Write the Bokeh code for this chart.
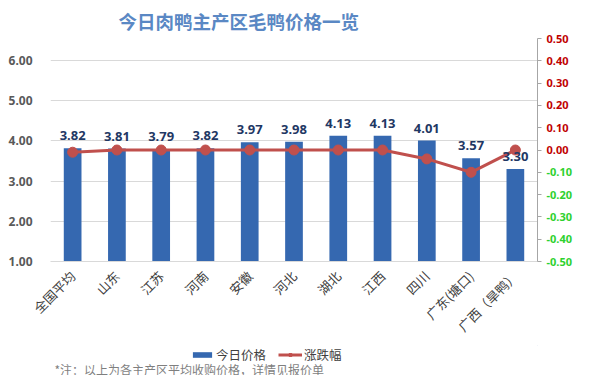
from bokeh.plotting import figure
from bokeh.layouts import column
from bokeh.models import (ColumnDataSource, LinearAxis, Range1d, FactorRange, FixedTicker,
                          Legend, LegendItem, LabelSet, Label, CustomJSTickFormatter)
from bokeh.embed import file_html
from bokeh.resources import INLINE
from bokeh.core.properties import value

regions = ["全国平均", "山东", "江苏", "河南", "安徽", "河北", "湖北", "江西", "四川", "广东(塘口)", "广西（旱鸭）"]
prices = [3.82, 3.81, 3.79, 3.82, 3.97, 3.98, 4.13, 4.13, 4.01, 3.57, 3.30]
changes = [-0.01, 0.00, 0.00, 0.00, 0.00, 0.00, 0.00, 0.00, -0.04, -0.10, 0.00]
left_ticks = [1, 2, 3, 4, 5, 6]
right_ticks = [-0.5, -0.4, -0.3, -0.2, -0.1, 0.0, 0.1, 0.2, 0.3, 0.4, 0.5]
pos_ticks = [t for t in right_ticks if t >= 0]
neg_ticks = [t for t in right_ticks if t < 0]
series_names = ["今日价格", "涨跌幅"]
title_text = "今日肉鸭主产区毛鸭价格一览"
note_text = "*注：以上为各主产区平均收购价格，详情见报价单"

CJK = "Noto Sans CJK SC"
NUM = "Noto Sans"
BAR = "#3568B0"
LINE = "#C0504D"

src = ColumnDataSource(dict(x=regions, price=prices, change=changes,
                            plabel=["%.2f" % v for v in prices]))

p = figure(width=574, height=345, x_range=FactorRange(*regions, range_padding=0),
           y_range=Range1d(1, 6.55), output_backend="svg", toolbar_location=None,
           min_border_left=50, min_border_right=4, min_border_top=4, min_border_bottom=0)
p.extra_y_ranges = {"right": Range1d(-0.5, 0.5)}

p.title.text = title_text
p.title.align = "left"
p.title.offset = 68
p.title.text_font = CJK
p.title.text_font_size = "18.5px"
p.title.text_color = "#5A88C4"
p.title.text_font_style = "bold"

p.outline_line_color = None
p.background_fill_color = "white"
p.border_fill_color = "white"

p.yaxis.ticker = FixedTicker(ticks=left_ticks)
p.yaxis.formatter = CustomJSTickFormatter(code="return tick.toFixed(2);")
p.yaxis.axis_line_color = None
p.yaxis.major_tick_line_color = None
p.yaxis.minor_tick_line_color = None
p.yaxis.major_label_text_font = NUM
p.yaxis.major_label_text_font_style = "bold"
p.yaxis.major_label_text_font_size = "12px"
p.yaxis.major_label_text_color = "#595959"
p.yaxis.major_label_standoff = 12

p.ygrid.ticker = FixedTicker(ticks=left_ticks)
p.ygrid.grid_line_color = "#D9D9D9"
p.xgrid.grid_line_color = None

p.xaxis.axis_line_color = "#D9D9D9"
p.xaxis.major_tick_line_color = None
p.xaxis.major_label_orientation = 0.785398
p.xaxis.major_label_text_font = CJK
p.xaxis.major_label_text_font_size = "13px"
p.xaxis.major_label_text_color = "#404040"
p.xaxis.major_label_standoff = 6

fmt = CustomJSTickFormatter(code="return tick.toFixed(2);")
raxis = LinearAxis(y_range_name="right", ticker=FixedTicker(ticks=right_ticks),
                   formatter=fmt, major_label_overrides={t: "" for t in neg_ticks})
raxis.axis_line_color = "#A6A6A6"
raxis.major_tick_line_color = "#A6A6A6"
raxis.major_tick_in = 0
raxis.major_tick_out = 4
raxis.minor_tick_line_color = None
raxis.major_label_standoff = 5
raxis.major_label_text_font = NUM
raxis.major_label_text_font_style = "bold"
raxis.major_label_text_font_size = "11px"
raxis.major_label_text_color = "#C00000"
p.add_layout(raxis, "right")

raxis2 = LinearAxis(y_range_name="right", ticker=FixedTicker(ticks=neg_ticks),
                    formatter=fmt)
raxis2.axis_line_color = None
raxis2.major_tick_line_color = None
raxis2.major_tick_in = 0
raxis2.major_tick_out = 0
raxis2.minor_tick_line_color = None
raxis2.major_label_standoff = -25
raxis2.major_label_text_font = NUM
raxis2.major_label_text_font_style = "bold"
raxis2.major_label_text_font_size = "11px"
raxis2.major_label_text_color = "#2ED12E"
p.add_layout(raxis2, "right")

p.vbar(x="x", top="price", bottom=1, width=0.4, source=src,
       fill_color=BAR, line_color=None)

labels = LabelSet(x="x", y="price", text="plabel", source=src, y_offset=8,
                  text_align="center", text_baseline="bottom", text_font=value(NUM),
                  text_font_style="bold", text_font_size="13px", text_color="#1F3864")
p.add_layout(labels)

p.line(x="x", y="change", source=src, y_range_name="right",
       line_color=LINE, line_width=3)
p.scatter(x="x", y="change", source=src, y_range_name="right", marker="circle",
          size=10, fill_color=LINE, line_color=LINE)

# legend + footnote strip (legend glyph renderers hold one point outside the strip's view)
q = figure(width=574, height=30, x_range=Range1d(0, 1), y_range=Range1d(0, 1),
           output_backend="svg", toolbar_location=None,
           x_axis_location=None, y_axis_location=None,
           min_border_left=0, min_border_right=0, min_border_top=0, min_border_bottom=0)
q.grid.visible = False
q.outline_line_color = None
q.border_fill_color = "white"
dummy = ColumnDataSource(dict(x=[prices[0]], y=[prices[0]], top=[prices[0]]))
lb = q.vbar(x="x", top="top", bottom="y", width=0.1, source=dummy, fill_color=BAR, line_color=None)
ll = q.line(x="x", y="y", source=dummy, line_color=LINE, line_width=3)
ls = q.scatter(x="x", y="y", source=dummy, marker="square", size=7,
               fill_color=LINE, line_color=LINE)
legend = Legend(items=[LegendItem(label=series_names[0], renderers=[lb]),
                       LegendItem(label=series_names[1], renderers=[ll, ls])],
                orientation="horizontal", location=(140, 11),
                label_text_font=CJK, label_text_font_size="12.5px", label_text_color="#404040",
                border_line_color=None, background_fill_alpha=0,
                glyph_width=24, glyph_height=7, spacing=12, padding=0, margin=0,
                label_height=13, label_standoff=2)
q.add_layout(legend)
q.add_layout(Label(x=4, y=-2, x_units="screen", y_units="screen", text=note_text,
                   text_font=CJK, text_font_size="12px", text_color="#7F7F7F"))

open("out.html", "w").write(file_html(column(p, q, spacing=0), INLINE))
